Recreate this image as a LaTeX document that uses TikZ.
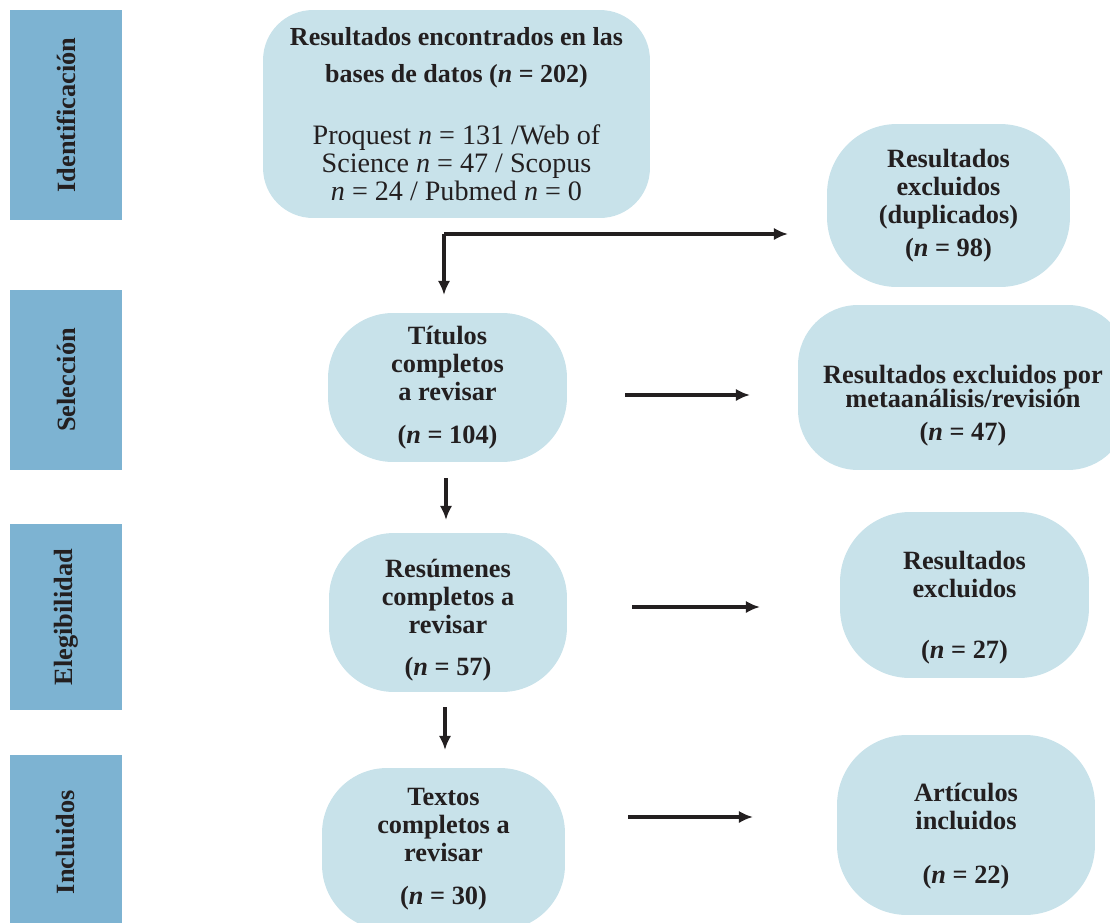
\documentclass[tikz,border=0pt]{standalone}
\usepackage{fontspec}
\setmainfont{Liberation Serif}
\usetikzlibrary{arrows.meta}
\definecolor{barblue}{HTML}{7DB3D2}
\definecolor{boxblue}{HTML}{C8E2EA}
\definecolor{ink}{HTML}{231F20}
\newcommand{\lowtext}[1]{\rule{0pt}{#1}}
\newcommand{\reg}{\fontsize{16}{16}\selectfont\mdseries}
\begin{document}
\begin{tikzpicture}[x=0.02cm, y=-0.02cm,
    bar/.style={fill=barblue, minimum width=2.24cm, text=ink, font=\fontsize{15}{16}\selectfont\bfseries},
    box/.style={fill=boxblue, text=ink, align=center, inner sep=0pt, font=\fontsize{15}{16}\selectfont\bfseries},
    arr/.style={draw=ink, line width=2pt, -{Latex[length=8pt,width=7pt]}}]
    \useasboundingbox (0,0) rectangle (1110,923);
    \begin{scope}
    \clip (0,0) rectangle (1110,923);
    % fases
    \node[bar, minimum height=4.2cm] (fase1) at (66,115) {\rotatebox{90}{Identificación}};
    \node[bar, minimum height=3.6cm] (fase2) at (66,380) {\rotatebox{90}{Selección}};
    \node[bar, minimum height=3.72cm] (fase3) at (66,617) {\rotatebox{90}{Elegibilidad}};
    \node[bar, minimum height=3.5cm] (fase4) at (66,842) {\rotatebox{90}{Incluidos}};
    % cajas
    \node[box, rounded corners=1cm, minimum width=7.74cm, minimum height=4.16cm] (bases) at (456.5,114)
        {\fontsize{14.8}{16}\selectfont Resultados encontrados en las\\[5.5pt]
         \fontsize{14.8}{16}\selectfont bases de datos (\textit{n} = 202)\\[19pt]
         \reg Proquest \textit{n} = 131 /Web of\\
         \reg Science \textit{n} = 47 / Scopus\\
         \reg \textit{n} = 24 / Pubmed \textit{n} = 0};
    \node[box, rounded corners=1.4cm, minimum width=4.86cm, minimum height=3.26cm] (dupl) at (948.5,205.5)
        {Resultados\\excluidos\\(duplicados)\\[3pt](\textit{n} = 98)};
    \node[box, rounded corners=1.3cm, minimum width=4.78cm, minimum height=2.98cm] (titulos) at (447.5,387.5)
        {Títulos\\completos\\a revisar\\[8pt](\textit{n} = 104)};
    \node[box, rounded corners=1.2cm, minimum width=6.6cm, minimum height=3.3cm] (meta) at (963,387.5)
        {\lowtext{31pt}Resultados excluidos por\\[-2pt]metaanálisis/revisión\\[2.7pt](\textit{n} = 47)};
    \node[box, rounded corners=1.3cm, minimum width=4.76cm, minimum height=3.18cm] (resum) at (448,612.5)
        {\lowtext{19pt}Resúmenes\\completos a\\revisar\\[8pt](\textit{n} = 57)};
    \node[box, rounded corners=1.4cm, minimum width=4.98cm, minimum height=3.32cm] (excl) at (964.5,595)
        {\lowtext{25pt}Resultados\\excluidos\\[19pt](\textit{n} = 27)};
    \node[box, rounded corners=1.3cm, minimum width=4.86cm, minimum height=3.24cm] (textos) at (443.5,849)
        {Textos\\completos a\\revisar\\[8pt](\textit{n} = 30)};
    \node[box, rounded corners=1.4cm, minimum width=5.16cm, minimum height=3.6cm] (artic) at (966,825)
        {\lowtext{23pt}Artículos\\incluidos\\[15pt](\textit{n} = 22)};
    \end{scope}
    % flechas
    \coordinate (codo) at (444,234);
    \coordinate (codoR) at (788,234);
    \coordinate (codoD) at (444,295);
    \coordinate (s1) at (625,395);
    \coordinate (e1) at (750,395);
    \coordinate (v1a) at (446,478);
    \coordinate (v1b) at (446,520);
    \coordinate (s2) at (632,607);
    \coordinate (e2) at (760,607);
    \coordinate (v2a) at (445,707);
    \coordinate (v2b) at (445,750);
    \coordinate (s3) at (628,817);
    \coordinate (e3) at (753,817);
    \draw[arr] (codo) -- (codoR);
    \draw[arr] (codo) -- (codoD);
    \draw[arr] (s1) -- (e1);
    \draw[arr] (v1a) -- (v1b);
    \draw[arr] (s2) -- (e2);
    \draw[arr] (v2a) -- (v2b);
    \draw[arr] (s3) -- (e3);
\end{tikzpicture}
\end{document}
